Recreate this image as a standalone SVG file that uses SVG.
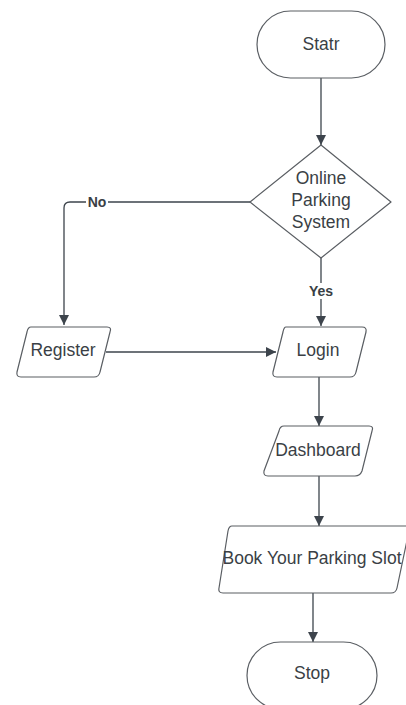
<svg xmlns="http://www.w3.org/2000/svg" width="406" height="705" viewBox="0 0 406 705">
<style>
.shape{fill:#fff;stroke:#5a5e63;stroke-width:1.2}
.t{font-family:"Liberation Sans",Arial,sans-serif;font-size:17.5px;fill:#3a3f45;text-anchor:middle;dominant-baseline:central}
.lbl{font-family:"Liberation Sans",Arial,sans-serif;font-size:14px;font-weight:bold;fill:#3a3f45;text-anchor:middle;dominant-baseline:central}
.c{fill:none;stroke:#3d444c;stroke-width:1.3}
</style>
<defs>
<marker id="ah" viewBox="0 0 10 10" refX="10" refY="5" markerWidth="10" markerHeight="10" markerUnits="userSpaceOnUse" orient="auto">
<path d="M0,0 L10,5 L0,10 Z" fill="#3d444c"/>
</marker>
</defs>
<rect width="406" height="705" fill="#fff"/>
<g id="connectors">
<path class="c" d="M321,78 V145" marker-end="url(#ah)"/>
<path class="c" d="M250,202 H108 M86,202 H70 Q64,202 64,208 V325" marker-end="url(#ah)"/>
<text class="lbl" x="97" y="202">No</text>
<path class="c" d="M321,258 V283"/>
<path class="c" d="M321,299 V326" marker-end="url(#ah)"/>
<text class="lbl" x="321" y="291">Yes</text>
<path class="c" d="M106,352 H276" marker-end="url(#ah)"/>
<path class="c" d="M319,377 V426" marker-end="url(#ah)"/>
<path class="c" d="M319,476 V526" marker-end="url(#ah)"/>
<path class="c" d="M313,593 V642" marker-end="url(#ah)"/>
</g>
<g id="start">
<rect class="shape" x="257" y="11" width="128" height="67" rx="33.5"/>
<text class="t" x="321" y="44">Statr</text>
</g>
<g id="decision">
<path class="shape" d="M321,145 L391,202 L321,258 L250,202 Z" stroke-linejoin="round"/>
<text class="t" x="321" y="178">Online</text>
<text class="t" x="321" y="200">Parking</text>
<text class="t" x="321" y="222">System</text>
</g>
<g id="register">
<path class="shape" d="M31,327 H107 Q112,327 110,332 L100,372 Q99,377 94,377 H21 Q16,377 17,372 L27,332 Q28,327 31,327 Z"/>
<text class="t" x="63" y="350">Register</text>
</g>
<g id="login">
<path class="shape" d="M286,327 H362 Q367,327 366,332 L356,372 Q355,377 350,377 H277 Q272,377 273,372 L283,332 Q284,327 286,327 Z"/>
<text class="t" x="318" y="350">Login</text>
</g>
<g id="dashboard">
<path class="shape" d="M284,426 H369 Q374,426 372,431 L362,471 Q360,476 355,476 H268 Q263,476 264,471 L279,431 Q280,426 284,426 Z"/>
<text class="t" x="318" y="450">Dashboard</text>
</g>
<g id="book">
<path class="shape" d="M232,526 H410 L397,588 Q396,593 391,593 H223 Q218,593 219,588 L228,531 Q229,526 232,526 Z"/>
<text class="t" x="312" y="558">Book Your Parking Slot</text>
</g>
<g id="stop">
<rect class="shape" x="247" y="642" width="130" height="67" rx="33.5"/>
<text class="t" x="312" y="673">Stop</text>
</g>
</svg>
